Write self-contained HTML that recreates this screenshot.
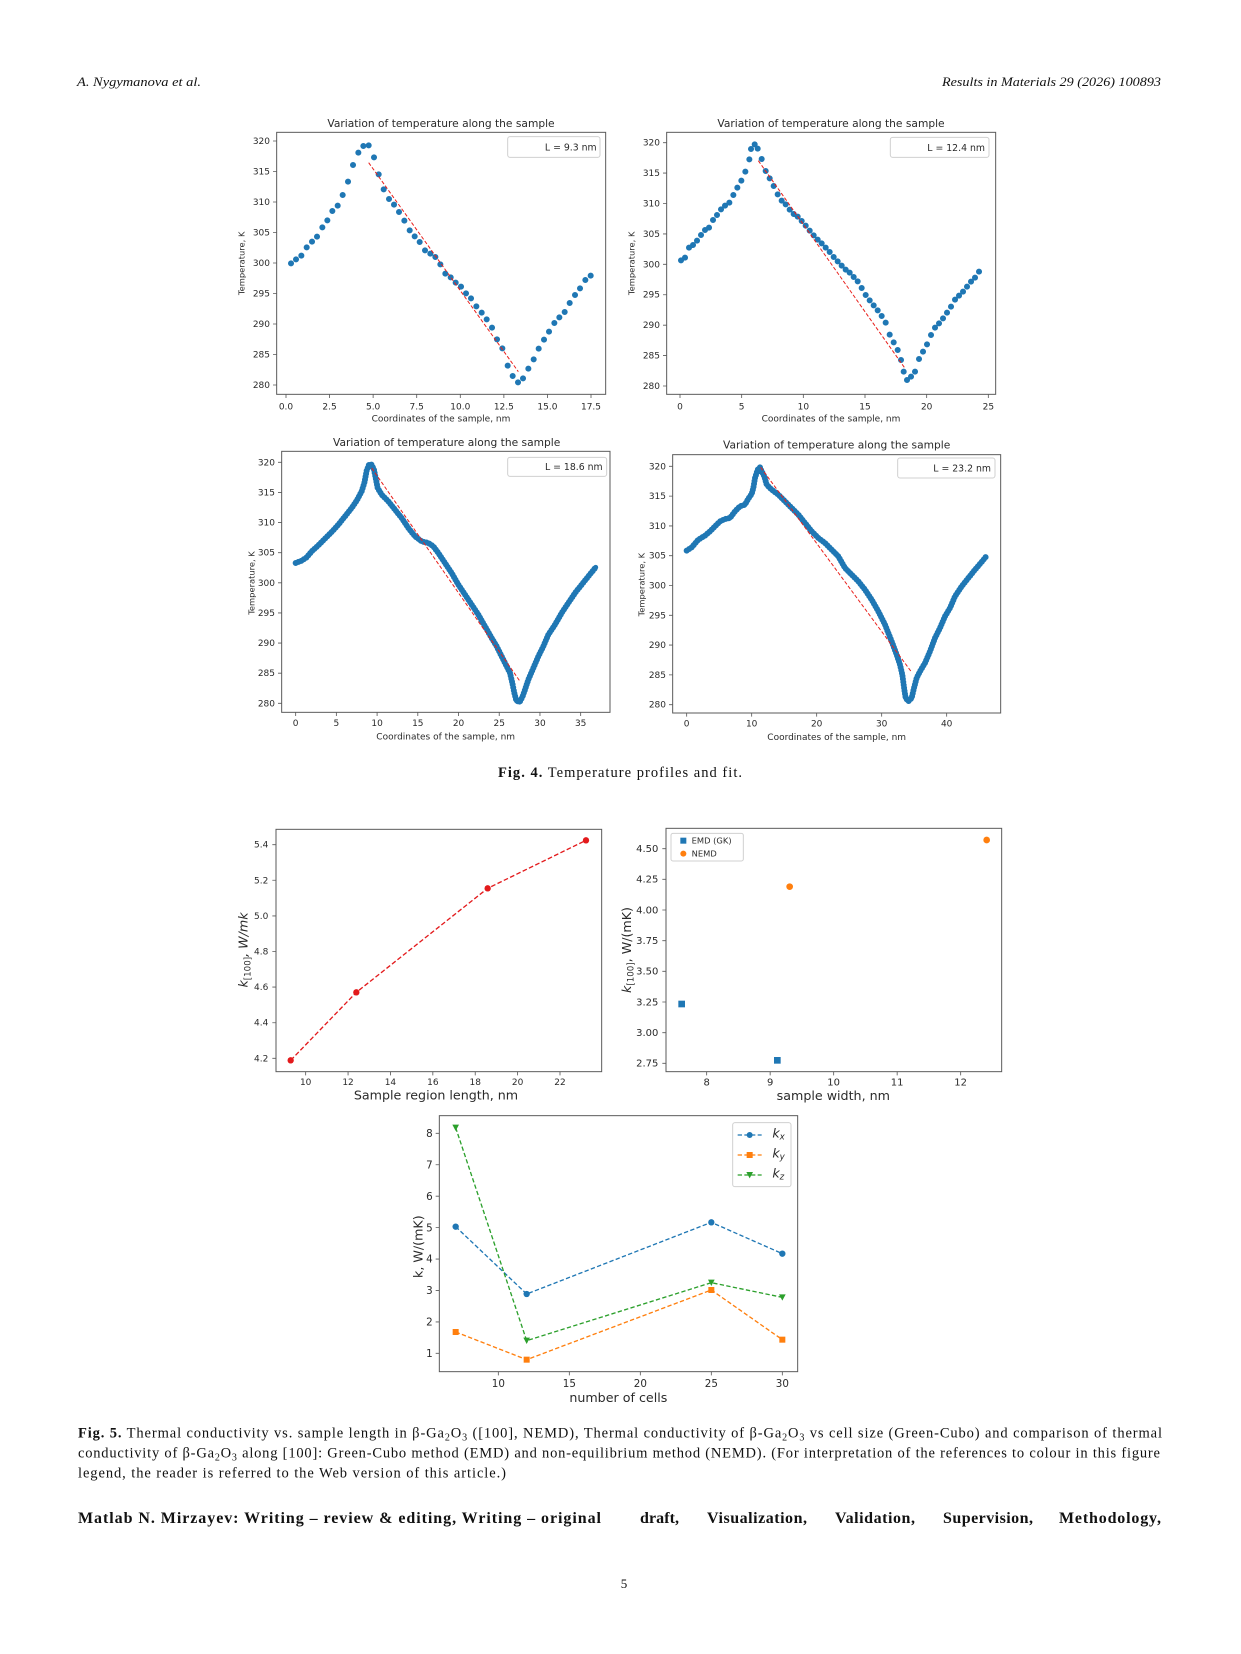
<!DOCTYPE html>
<html><head><meta charset="utf-8"><title>Results in Materials – page 5</title>
<style>
html,body{margin:0;padding:0;background:#fff;}
body{width:1241px;height:1654px;overflow:hidden;}
svg{display:block;}
.pl text{font-family:"DejaVu Sans","Liberation Sans",sans-serif;fill:#2a2a2a;}
.ti{font-size:32px;text-anchor:middle;}
.dots{fill:none;stroke:#1f77b4;stroke-width:18;stroke-linecap:round;}
.thick{fill:none;stroke:#1f77b4;stroke-width:15;stroke-linejoin:round;stroke-linecap:round;}
.beads{fill:none;stroke:#1f77b4;stroke-width:18;stroke-linecap:round;stroke-dasharray:0 9;}
.fit{stroke:#e8201c;stroke-width:3;stroke-dasharray:11 6;fill:none;}
.fr{fill:none;stroke:#5a5a5a;stroke-width:3;}
.tm{stroke:#5a5a5a;stroke-width:2.5;fill:none;}
.yl text{font-size:27px;text-anchor:end;}
.xl text{font-size:27px;text-anchor:middle;}
.lab{font-size:27px;text-anchor:middle;}
.ylab{font-size:25px;text-anchor:middle;}
.lg{fill:#fff;stroke:#d0d0d0;stroke-width:3;}
.lt{font-size:28px;text-anchor:end;}
.big{font-size:38px;text-anchor:middle;}
.serif{font-family:"Liberation Serif","DejaVu Serif",serif;fill:#111;}
</style></head>
<body>
<svg width="1241" height="1654" viewBox="0 0 1241 1654" xmlns="http://www.w3.org/2000/svg">
<rect width="1241" height="1654" fill="#fff"/>

<!-- Header -->
<text class="serif" x="77" y="86" font-size="13" font-style="italic" textLength="124" lengthAdjust="spacingAndGlyphs">A. Nygymanova et al.</text>
<text class="serif" x="942" y="86" font-size="13" font-style="italic" textLength="219" lengthAdjust="spacingAndGlyphs">Results in Materials 29 (2026) 100893</text>

<!-- ===== Plot A ===== -->
<g class="pl" transform="translate(225,105) scale(0.333333)">
<text class="ti" x="648" y="66">Variation of temperature along the sample</text>
<path class="dots" d="M198 475h.1M213 463h.1M229 452h.1M245 427h.1M261 410h.1M276 395h.1M292 367h.1M307 346h.1M322 318h.1M338 302h.1M353 270h.1M369 230h.1M384 180h.1M400 143h.1M415 123h.1M431 121h.1M447 157h.1M461 208h.1M476 253h.1M492 282h.1M507 299h.1M522 321h.1M538 347h.1M554 376h.1M569 394h.1M584 411h.1M600 436h.1M616 446h.1M631 456h.1M646 478h.1M661 506h.1M677 517h.1M692 533h.1M708 545h.1M723 565h.1M738 580h.1M754 604h.1M770 623h.1M785 643h.1M801 668h.1M816 703h.1M832 730h.1M848 782h.1M863 813h.1M879 832h.1M894 820h.1M910 791h.1M926 763h.1M941 731h.1M957 704h.1M972 680h.1M988 654h.1M1003 637h.1M1019 621h.1M1034 594h.1M1050 570h.1M1065 550h.1M1081 525h.1M1097 512h.1"/>
<line class="fit" x1="431" y1="173" x2="880" y2="800"/>
<rect class="fr" x="155" y="82" width="987" height="786"/>
<path class="tm" d="M155 108h-11M155 199.5h-11M155 291h-11M155 382.5h-11M155 474h-11M155 565.5h-11M155 657h-11M155 748.5h-11M155 840h-11M183 868v11M313.7 868v11M444.4 868v11M575.1 868v11M705.9 868v11M836.6 868v11M967.3 868v11M1098 868v11"/>
<g class="yl"><text x="135" y="117">320</text><text x="135" y="208.5">315</text><text x="135" y="300">310</text><text x="135" y="391.5">305</text><text x="135" y="483">300</text><text x="135" y="574.5">295</text><text x="135" y="666">290</text><text x="135" y="757.5">285</text><text x="135" y="849">280</text></g>
<g class="xl"><text x="183" y="914">0.0</text><text x="313.7" y="914">2.5</text><text x="444.4" y="914">5.0</text><text x="575.1" y="914">7.5</text><text x="705.9" y="914">10.0</text><text x="836.6" y="914">12.5</text><text x="967.3" y="914">15.0</text><text x="1098" y="914">17.5</text></g>
<text class="lab" x="648" y="950">Coordinates of the sample, nm</text>
<text class="ylab" transform="translate(59,475) rotate(-90)">Temperature, K</text>
<rect class="lg" x="848" y="95" width="277" height="62" rx="7"/>
<text class="lt" x="1115" y="137">L = 9.3 nm</text>
</g>

<!-- ===== Plot B ===== -->
<g class="pl" transform="translate(615,105) scale(0.333333)">
<text class="ti" x="648" y="66">Variation of temperature along the sample</text>
<path class="dots" d="M198 466h.1M210 458h.1M222 428h.1M234 420h.1M246 407h.1M258 390h.1M270 375h.1M282 368h.1M294 345h.1M306 330h.1M318 313h.1M330 302h.1M343 293h.1M355 270h.1M367 248h.1M379 227h.1M391 200h.1M403 163h.1M408 132h.1M419 118h.1M428 131h.1M440 162h.1M452 198h.1M464 220h.1M476 243h.1M488 268h.1M500 287h.1M512 298h.1M524 314h.1M536 327h.1M548 335h.1M560 348h.1M572 362h.1M584 377h.1M596 391h.1M608 404h.1M620 415h.1M632 428h.1M644 441h.1M656 456h.1M668 469h.1M680 482h.1M692 494h.1M704 503h.1M716 516h.1M728 529h.1M740 549h.1M752 570h.1M764 586h.1M776 601h.1M788 616h.1M800 633h.1M812 653h.1M824 689h.1M836 712h.1M848 735h.1M858 765h.1M866 800h.1M876 825h.1M888 815h.1M900 800h.1M912 762h.1M924 740h.1M936 718h.1M948 690h.1M960 668h.1M972 655h.1M984 640h.1M996 623h.1M1008 605h.1M1020 584h.1M1032 572h.1M1044 560h.1M1056 545h.1M1068 530h.1M1080 518h.1M1092 500h.1"/>
<line class="fit" x1="430" y1="167" x2="870" y2="790"/>
<rect class="fr" x="155" y="82" width="987" height="786"/>
<path class="tm" d="M155 113h-11M155 204.25h-11M155 295.5h-11M155 386.75h-11M155 478h-11M155 569.25h-11M155 660.5h-11M155 751.75h-11M155 843h-11M195 868v11M380 868v11M565 868v11M750 868v11M935 868v11M1120 868v11"/>
<g class="yl"><text x="135" y="122">320</text><text x="135" y="213.25">315</text><text x="135" y="304.5">310</text><text x="135" y="395.75">305</text><text x="135" y="487">300</text><text x="135" y="578.25">295</text><text x="135" y="669.5">290</text><text x="135" y="760.75">285</text><text x="135" y="852">280</text></g>
<g class="xl"><text x="195" y="914">0</text><text x="380" y="914">5</text><text x="565" y="914">10</text><text x="750" y="914">15</text><text x="935" y="914">20</text><text x="1120" y="914">25</text></g>
<text class="lab" x="648" y="950">Coordinates of the sample, nm</text>
<text class="ylab" transform="translate(59,475) rotate(-90)">Temperature, K</text>
<rect class="lg" x="826" y="97" width="296" height="60" rx="7"/>
<text class="lt" x="1110" y="138">L = 12.4 nm</text>
</g>

<!-- ===== Plot C ===== -->
<g class="pl" transform="translate(225,408) scale(0.333333)">
<text class="ti" x="665" y="114">Variation of temperature along the sample</text>
<polyline class="thick" points="212,465 230,458 245,448 260,430 280,412 300,392 320,372 340,350 360,325 380,300 395,278 410,250 418,225 425,188 432,170 440,170 447,185 452,210 458,240 470,260 490,280 510,305 530,330 550,360 570,385 590,400 610,405 625,415 640,435 660,465 680,495 700,530 720,560 740,590 760,620 780,655 800,690 815,715 830,745 845,775 855,795 862,825 868,855 874,878 884,882 893,865 900,845 910,815 925,780 940,745 955,715 970,680 990,650 1010,615 1030,585 1050,555 1070,530 1090,505 1112,478"/>
<polyline class="beads" points="212,465 230,458 245,448 260,430 280,412 300,392 320,372 340,350 360,325 380,300 395,278 410,250 418,225 425,188 432,170 440,170 447,185 452,210 458,240 470,260 490,280 510,305 530,330 550,360 570,385 590,400 610,405 625,415 640,435 660,465 680,495 700,530 720,560 740,590 760,620 780,655 800,690 815,715 830,745 845,775 855,795 862,825 868,855 874,878 884,882 893,865 900,845 910,815 925,780 940,745 955,715 970,680 990,650 1010,615 1030,585 1050,555 1070,530 1090,505 1112,478"/>
<line class="fit" x1="440" y1="180" x2="885" y2="820"/>
<rect class="fr" x="170" y="130" width="985" height="783"/>
<path class="tm" d="M170 163h-11M170 253.4h-11M170 343.75h-11M170 434.1h-11M170 524.5h-11M170 614.9h-11M170 705.25h-11M170 795.6h-11M170 886h-11M212 913v11M334.1 913v11M456.3 913v11M578.4 913v11M700.6 913v11M822.7 913v11M944.9 913v11M1067 913v11"/>
<g class="yl"><text x="150" y="172">320</text><text x="150" y="262.4">315</text><text x="150" y="352.75">310</text><text x="150" y="443.1">305</text><text x="150" y="533.5">300</text><text x="150" y="623.9">295</text><text x="150" y="714.25">290</text><text x="150" y="804.6">285</text><text x="150" y="895">280</text></g>
<g class="xl"><text x="212" y="954">0</text><text x="334.1" y="954">5</text><text x="456.3" y="954">10</text><text x="578.4" y="954">15</text><text x="700.6" y="954">20</text><text x="822.7" y="954">25</text><text x="944.9" y="954">30</text><text x="1067" y="954">35</text></g>
<text class="lab" x="662" y="994">Coordinates of the sample, nm</text>
<text class="ylab" transform="translate(89,525) rotate(-90)">Temperature, K</text>
<rect class="lg" x="848" y="148" width="297" height="57" rx="7"/>
<text class="lt" x="1133" y="186">L = 18.6 nm</text>
</g>

<!-- ===== Plot D ===== -->
<g class="pl" transform="translate(615,408) scale(0.333333)">
<text class="ti" x="665" y="121">Variation of temperature along the sample</text>
<polyline class="thick" points="215,428 230,418 250,395 270,383 285,370 300,355 315,340 330,333 345,330 360,310 375,295 390,290 400,272 410,258 415,240 420,210 428,185 435,178 440,190 448,205 455,230 470,245 490,260 510,280 530,300 550,320 570,345 590,370 610,390 630,405 650,425 670,445 690,480 710,500 730,520 750,545 770,575 790,610 810,650 830,700 845,740 855,770 862,800 868,845 872,870 880,880 890,870 897,840 905,810 915,790 930,765 945,730 960,690 975,660 990,625 1005,600 1020,565 1040,535 1060,510 1080,485 1100,462 1112,447"/>
<polyline class="beads" points="215,428 230,418 250,395 270,383 285,370 300,355 315,340 330,333 345,330 360,310 375,295 390,290 400,272 410,258 415,240 420,210 428,185 435,178 440,190 448,205 455,230 470,245 490,260 510,280 530,300 550,320 570,345 590,370 610,390 630,405 650,425 670,445 690,480 710,500 730,520 750,545 770,575 790,610 810,650 830,700 845,740 855,770 862,800 868,845 872,870 880,880 890,870 897,840 905,810 915,790 930,765 945,730 960,690 975,660 990,625 1005,600 1020,565 1040,535 1060,510 1080,485 1100,462 1112,447"/>
<line class="fit" x1="437" y1="178" x2="888" y2="790"/>
<rect class="fr" x="173" y="140" width="984" height="775"/>
<path class="tm" d="M173 175h-11M173 264.4h-11M173 353.75h-11M173 443.1h-11M173 532.5h-11M173 621.9h-11M173 711.25h-11M173 800.6h-11M173 890h-11M215 915v11M410 915v11M605 915v11M800 915v11M995 915v11"/>
<g class="yl"><text x="153" y="184">320</text><text x="153" y="273.4">315</text><text x="153" y="362.75">310</text><text x="153" y="452.1">305</text><text x="153" y="541.5">300</text><text x="153" y="630.9">295</text><text x="153" y="720.25">290</text><text x="153" y="809.6">285</text><text x="153" y="899">280</text></g>
<g class="xl"><text x="215" y="956">0</text><text x="410" y="956">10</text><text x="605" y="956">20</text><text x="800" y="956">30</text><text x="995" y="956">40</text></g>
<text class="lab" x="665" y="996">Coordinates of the sample, nm</text>
<text class="ylab" transform="translate(89,530) rotate(-90)">Temperature, K</text>
<rect class="lg" x="848" y="150" width="292" height="60" rx="7"/>
<text class="lt" x="1128" y="190">L = 23.2 nm</text>
</g>

<!-- Fig 4 caption -->
<text class="serif" x="498" y="777" font-size="14.5" textLength="244" lengthAdjust="spacing"><tspan font-weight="bold">Fig. 4.</tspan>  Temperature profiles and fit.</text>

<!-- ===== Plot E ===== -->
<g class="pl" transform="translate(225,800) scale(0.333333)">
<rect x="153" y="88" width="977" height="727" fill="#fff"/>
<polyline points="197,781 394,577 788,265 1083,121" fill="none" stroke="#e31a1c" stroke-width="4" stroke-dasharray="14 7"/>
<g fill="#e31a1c"><circle cx="197" cy="781" r="9.5"/><circle cx="394" cy="577" r="9.5"/><circle cx="788" cy="265" r="9.5"/><circle cx="1083" cy="121" r="9.5"/></g>
<rect class="fr" x="153" y="88" width="977" height="727"/>
<path class="tm" d="M153 775h-11M153 668.2h-11M153 561.3h-11M153 454.5h-11M153 347.7h-11M153 240.8h-11M153 134h-11M242 815v11M369.2 815v11M496.3 815v11M623.5 815v11M750.7 815v11M877.8 815v11M1005 815v11"/>
<g class="yl"><text x="130" y="784">4.2</text><text x="130" y="677.2">4.4</text><text x="130" y="570.3">4.6</text><text x="130" y="463.5">4.8</text><text x="130" y="356.7">5.0</text><text x="130" y="249.8">5.2</text><text x="130" y="143">5.4</text></g>
<g class="xl"><text x="242" y="855">10</text><text x="369.2" y="855">12</text><text x="496.3" y="855">14</text><text x="623.5" y="855">16</text><text x="750.7" y="855">18</text><text x="877.8" y="855">20</text><text x="1005" y="855">22</text></g>
<text class="big" x="633" y="898">Sample region length, nm</text>
<text class="big" transform="translate(68,450) rotate(-90)" font-style="italic">k<tspan font-size="26" dy="8" font-style="normal">[100]</tspan><tspan dy="-8">, W/mk</tspan></text>
</g>

<!-- ===== Plot F ===== -->
<g class="pl" transform="translate(610,800) scale(0.333333)">
<rect class="fr" x="168" y="85" width="1007" height="730"/>
<path class="tm" d="M168 790h-11M168 698h-11M168 606h-11M168 514h-11M168 422h-11M168 330h-11M168 238h-11M168 146h-11M290 815v11M480.5 815v11M671 815v11M861.5 815v11M1052 815v11"/>
<g class="yl"><text x="145" y="800" style="font-size:30px">2.75</text><text x="145" y="708" style="font-size:30px">3.00</text><text x="145" y="616" style="font-size:30px">3.25</text><text x="145" y="524" style="font-size:30px">3.50</text><text x="145" y="432" style="font-size:30px">3.75</text><text x="145" y="340" style="font-size:30px">4.00</text><text x="145" y="248" style="font-size:30px">4.25</text><text x="145" y="156" style="font-size:30px">4.50</text></g>
<g class="xl"><text x="290" y="857" style="font-size:30px">8</text><text x="480.5" y="857" style="font-size:30px">9</text><text x="671" y="857" style="font-size:30px">10</text><text x="861.5" y="857" style="font-size:30px">11</text><text x="1052" y="857" style="font-size:30px">12</text></g>
<g fill="#1f77b4"><rect x="205" y="602" width="20" height="20"/><rect x="492" y="771" width="20" height="20"/></g>
<g fill="#ff7f0e"><circle cx="539" cy="260" r="10"/><circle cx="1130" cy="120" r="10"/></g>
<rect class="lg" x="183" y="100" width="217" height="83" rx="6"/>
<rect x="211" y="113" width="18" height="18" fill="#1f77b4"/>
<circle cx="220" cy="161" r="9" fill="#ff7f0e"/>
<text x="245" y="131" style="font-size:25px">EMD (GK)</text>
<text x="245" y="169" style="font-size:25px">NEMD</text>
<text class="big" x="670" y="900">sample width, nm</text>
<text class="big" transform="translate(63,450) rotate(-90)"><tspan font-style="italic">k</tspan><tspan font-size="26" dy="8">[100]</tspan><tspan dy="-8">, W/(mK)</tspan></text>
</g>

<!-- ===== Plot G ===== -->
<g class="pl" transform="translate(385,1100) scale(0.333333)">
<rect class="fr" x="163" y="47" width="1075" height="768"/>
<path class="tm" d="M163 100h-11M163 194.3h-11M163 288.6h-11M163 382.9h-11M163 477.1h-11M163 571.4h-11M163 665.7h-11M163 760h-11M340 815v11M553 815v11M766 815v11M979 815v11M1192 815v11"/>
<g class="yl"><text x="143" y="111" style="font-size:31px">8</text><text x="143" y="205.3" style="font-size:31px">7</text><text x="143" y="299.6" style="font-size:31px">6</text><text x="143" y="393.9" style="font-size:31px">5</text><text x="143" y="488.1" style="font-size:31px">4</text><text x="143" y="582.4" style="font-size:31px">3</text><text x="143" y="676.7" style="font-size:31px">2</text><text x="143" y="771" style="font-size:31px">1</text></g>
<g class="xl"><text x="340" y="861" style="font-size:31px">10</text><text x="553" y="861" style="font-size:31px">15</text><text x="766" y="861" style="font-size:31px">20</text><text x="979" y="861" style="font-size:31px">25</text><text x="1192" y="861" style="font-size:31px">30</text></g>
<polyline points="212,380 425,582 979,367 1192,461" fill="none" stroke="#1f77b4" stroke-width="4" stroke-dasharray="13 7"/>
<polyline points="212,696 425,779 979,570 1192,719" fill="none" stroke="#ff7f0e" stroke-width="4" stroke-dasharray="13 7"/>
<polyline points="212,83 425,722 979,548 1192,592" fill="none" stroke="#2ca02c" stroke-width="4" stroke-dasharray="13 7"/>
<g fill="#1f77b4"><circle cx="212" cy="380" r="9.5"/><circle cx="425" cy="582" r="9.5"/><circle cx="979" cy="367" r="9.5"/><circle cx="1192" cy="461" r="9.5"/></g>
<g fill="#ff7f0e"><rect x="203" y="687" width="18" height="18"/><rect x="416" y="770" width="18" height="18"/><rect x="970" y="561" width="18" height="18"/><rect x="1183" y="710" width="18" height="18"/></g>
<g fill="#2ca02c"><path d="M202 74h20l-10 19z"/><path d="M415 713h20l-10 19z"/><path d="M969 539h20l-10 19z"/><path d="M1182 583h20l-10 19z"/></g>
<rect class="lg" x="1043" y="68" width="175" height="192" rx="7"/>
<line x1="1058" y1="105" x2="1130" y2="105" stroke="#1f77b4" stroke-width="4" stroke-dasharray="13 7"/>
<circle cx="1094" cy="105" r="9" fill="#1f77b4"/>
<line x1="1058" y1="165" x2="1130" y2="165" stroke="#ff7f0e" stroke-width="4" stroke-dasharray="13 7"/>
<rect x="1085" y="156" width="18" height="18" fill="#ff7f0e"/>
<line x1="1058" y1="225" x2="1130" y2="225" stroke="#2ca02c" stroke-width="4" stroke-dasharray="13 7"/>
<path d="M1084 216h20l-10 19z" fill="#2ca02c"/>
<text x="1162" y="112" font-size="38" font-style="italic">k<tspan font-size="26" dy="7">x</tspan></text>
<text x="1162" y="172" font-size="38" font-style="italic">k<tspan font-size="26" dy="7">y</tspan></text>
<text x="1162" y="232" font-size="38" font-style="italic">k<tspan font-size="26" dy="7">z</tspan></text>
<text class="big" x="700" y="906">number of cells</text>
<text class="big" transform="translate(113,440) rotate(-90)">k, W/(mK)</text>
</g>

<!-- Fig 5 caption -->
<text class="serif" x="78" y="1437.5" font-size="14.5" textLength="1084" lengthAdjust="spacing"><tspan font-weight="bold">Fig. 5.</tspan>  Thermal conductivity vs. sample length in β-Ga<tspan font-size="10" dy="3">2</tspan><tspan dy="-3">O</tspan><tspan font-size="10" dy="3">3</tspan><tspan dy="-3"> ([100], NEMD), Thermal conductivity of β-Ga</tspan><tspan font-size="10" dy="3">2</tspan><tspan dy="-3">O</tspan><tspan font-size="10" dy="3">3</tspan><tspan dy="-3"> vs cell size (Green-Cubo) and comparison of thermal</tspan></text>
<text class="serif" x="78" y="1457.5" font-size="14.5" textLength="1082" lengthAdjust="spacing">conductivity of β-Ga<tspan font-size="10" dy="3">2</tspan><tspan dy="-3">O</tspan><tspan font-size="10" dy="3">3</tspan><tspan dy="-3"> along [100]: Green-Cubo method (EMD) and non-equilibrium method (NEMD). (For interpretation of the references to colour in this figure</tspan></text>
<text class="serif" x="78" y="1477.5" font-size="14.5" textLength="428" lengthAdjust="spacing">legend, the reader is referred to the Web version of this article.)</text>

<!-- Author contributions line -->
<g class="serif" font-size="16" font-weight="bold">
<text x="78" y="1523" textLength="523" lengthAdjust="spacing">Matlab N. Mirzayev: Writing – review &amp; editing, Writing – original</text>
<text x="640" y="1523" textLength="39" lengthAdjust="spacing">draft,</text>
<text x="707" y="1523" textLength="100" lengthAdjust="spacing">Visualization,</text>
<text x="835" y="1523" textLength="80" lengthAdjust="spacing">Validation,</text>
<text x="943" y="1523" textLength="90" lengthAdjust="spacing">Supervision,</text>
<text x="1059" y="1523" textLength="102" lengthAdjust="spacing">Methodology,</text>
</g>

<!-- Page number -->
<text class="serif" x="624" y="1588" font-size="13" text-anchor="middle">5</text>
</svg>
</body></html>
